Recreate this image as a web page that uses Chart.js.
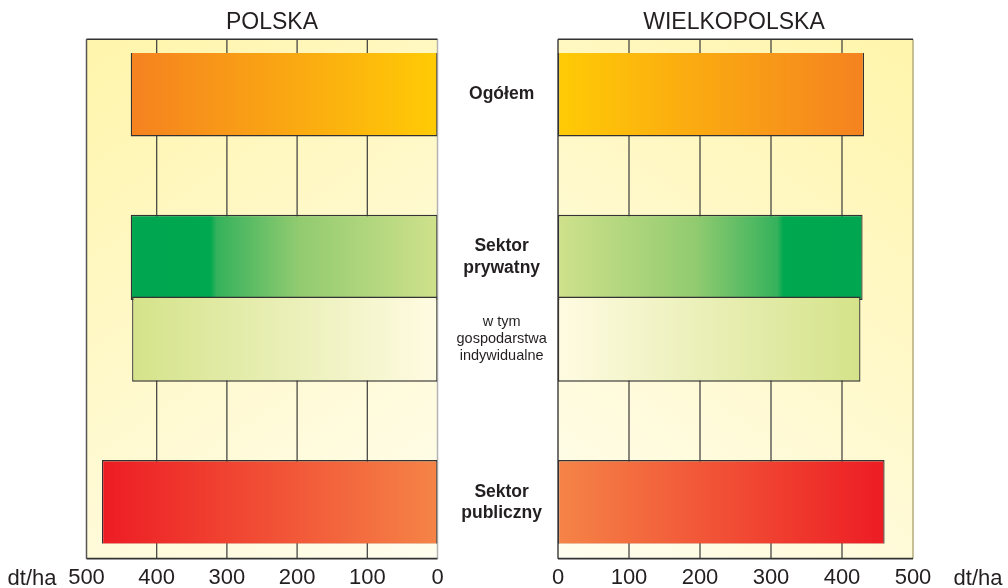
<!DOCTYPE html>
<html>
<head>
<meta charset="utf-8">
<script src="https://cdn.jsdelivr.net/npm/chart.js@4.4.1/dist/chart.umd.min.js"></script>
<style>
  body { margin: 0; background: #fff; width: 1008px; height: 588px; overflow: hidden; position: relative;
         font-family: 'Liberation Sans', Arial, sans-serif; color: #231f20; }
  canvas { position: absolute; top: 0; }
  #left { left: 0; }
  #right { left: 504px; }
  .t { position: absolute; white-space: nowrap; transform: translateX(-50%); }
  .title { font-size: 23px; line-height: 26px; top: 8px; }
  .unit { font-size: 22px; line-height: 26px; top: 565px; }
</style>
</head>
<body>
<canvas id="left" width="570" height="588"></canvas>
<canvas id="right" width="504" height="588"></canvas>
<div class="t title" style="left:272px">POLSKA</div>
<div class="t title" style="left:734px">WIELKOPOLSKA</div>
<div class="t unit" style="left:32px">dt/ha</div>
<div class="t unit" style="left:978px">dt/ha</div>
<script>
// rows of the chart (empty strings are the gaps between groups)
const rows = [['Ogółem'], '', ['Sektor', 'prywatny'], ['w tym', 'gospodarstwa', 'indywidualne'], '', ['Sektor', 'publiczny']];
// plony, dt/ha
const polska = [437, null, 437, 435, null, 478];
const wielkopolska = [431, null, 429, 426, null, 460];
const xMax = 500;
const xStep = 100;

// gradient stops per row, from 0 (inner side) to the bar end
const fills = [
  [[0, '#ffcb05'], [1, '#f58220']],
  null,
  [[0, '#cfe18b'], [0.45, '#92cb70'], [0.72, '#35b25c'], [0.74, '#00a84f'], [1, '#00a650']],
  [[0, '#fffbe2'], [1, '#d4e38a']],
  null,
  [[0, '#f58447'], [1, '#ed1c24']]
];

Chart.defaults.font.family = "'Liberation Sans', Arial, sans-serif";
Chart.defaults.color = '#231f20';

function barFill(c) {
  const stops = fills[c.dataIndex];
  if (!stops) return 'rgba(0,0,0,0)';
  const chart = c.chart, xs = chart.scales.x;
  if (!chart.chartArea || !xs || c.raw == null) return stops[stops.length - 1][1];
  const g = chart.ctx.createLinearGradient(xs.getPixelForValue(0), 0, xs.getPixelForValue(c.raw), 0);
  stops.forEach(s => g.addColorStop(s[0], s[1]));
  return g;
}

// background, grid and frame of each panel
const frame = {
  id: 'frame',
  beforeDatasetsDraw(chart, args, o) {
    const { ctx, chartArea: a, scales: { x } } = chart;
    const top = a.top - o.padTop, bottom = a.bottom + o.padBottom;
    const x0 = x.getPixelForValue(0), x5 = x.getPixelForValue(x.max);
    const l = Math.min(x0, x5), r = Math.max(x0, x5);
    const line = (ax, ay, bx, by) => { ctx.beginPath(); ctx.moveTo(ax, ay); ctx.lineTo(bx, by); ctx.stroke(); };
    ctx.save();
    const g = ctx.createLinearGradient(x5, top, x0, bottom);
    g.addColorStop(0, '#fff5ab');
    g.addColorStop(1, '#fffdee');
    ctx.fillStyle = g;
    ctx.fillRect(l, top, r - l, bottom - top);
    ctx.strokeStyle = '#3a3a3a';
    ctx.lineWidth = 1.2;
    x.ticks.forEach(t => {
      if (t.value > 0 && t.value < x.max) {
        const px = x.getPixelForValue(t.value);
        line(px, top, px, bottom);
      }
    });
    ctx.lineWidth = 1.5;
    ctx.strokeStyle = o.outerColor;
    line(x5, top, x5, bottom);
    ctx.strokeStyle = o.innerColor;
    line(x0, top, x0, bottom);
    ctx.strokeStyle = '#333';
    line(l, top, r, top);
    ctx.lineWidth = 1.8;
    line(l, bottom, r, bottom);
    ctx.restore();
  }
};

function makeChart(id, values, left) {
  return new Chart(document.getElementById(id), {
    type: 'bar',
    data: {
      labels: rows,
      datasets: [{
        data: values,
        backgroundColor: barFill,
        borderColor: '#333',
        borderWidth: 1.3,
        borderSkipped: false,
        barPercentage: 1.04,
        categoryPercentage: 1
      }]
    },
    options: {
      indexAxis: 'y',
      responsive: false,
      animation: false,
      layout: { padding: left ? { left: 86.5, top: 53 } : { left: 54, right: 95, top: 53 } },
      plugins: {
        legend: { display: false },
        tooltip: { enabled: false },
        frame: left
          ? { padTop: 13.8, padBottom: 15.2, outerColor: '#555', innerColor: '#b3b3b3' }
          : { padTop: 13.8, padBottom: 15.2, outerColor: '#b5ad7a', innerColor: '#444' }
      },
      scales: {
        x: {
          type: 'linear',
          min: 0,
          max: xMax,
          reverse: left,
          grid: { display: false, drawTicks: false },
          border: { display: false },
          ticks: { stepSize: xStep, font: { size: 22 }, padding: 21, maxRotation: 0 },
          afterFit: s => { s.height = 44.5; }
        },
        y: {
          display: left,
          position: 'right',
          offset: true,
          grid: { display: false, drawTicks: false },
          border: { display: false },
          ticks: {
            crossAlign: 'center',
            padding: 19,
            autoSkip: false,
            font: c => c.index === 3
              ? { size: 14.5, weight: 'normal', lineHeight: 1.17 }
              : { size: 17.5, weight: 'bold', lineHeight: 1.25 }
          },
          afterFit: s => { if (left) s.width = 132.5; }
        }
      }
    },
    plugins: [frame]
  });
}

makeChart('left', polska, true);
makeChart('right', wielkopolska, false);
</script>
</body>
</html>
